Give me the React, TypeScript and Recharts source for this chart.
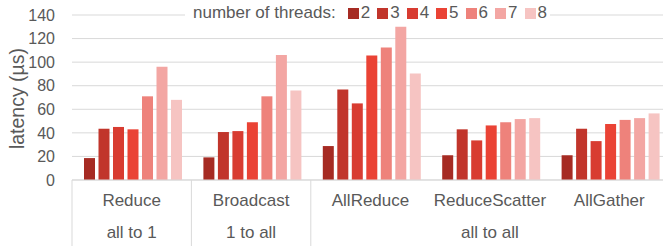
import { Bar, BarChart, CartesianGrid, Legend, XAxis, YAxis } from 'recharts'

const categories = ['Reduce', 'Broadcast', 'AllReduce', 'ReduceScatter', 'AllGather']
const groupLabels = ['all to 1', '1 to all', 'all to all']
const groupSizes = [1, 1, 3]
const threads = ['2', '3', '4', '5', '6', '7', '8']

const t2 = [18.6, 19.2, 28.8, 21, 21]
const t3 = [43.5, 40.7, 76.8, 43, 43.5]
const t4 = [45, 41.5, 65, 33.6, 33]
const t5 = [43, 49, 105.6, 46.3, 47.5]
const t6 = [71, 71, 112.4, 49, 51]
const t7 = [96, 106, 130, 51.7, 52.5]
const t8 = [68, 76, 90.4, 52.5, 56.5]
const series = [t2, t3, t4, t5, t6, t7, t8]

const yTicks = [0, 20, 40, 60, 80, 100, 120, 140]

const COLORS = ['#a62b23', '#c1352b', '#d83c31', '#ea4335', '#ee827b', '#f3a6a3', '#f6c4c2']
const FONT = '"Liberation Sans", Arial, sans-serif'
const TEXT = '#595959'
const GRID = '#d9d9d9'

const rows = categories.map((name, i) => {
  const row: Record<string, number | string> = { name }
  threads.forEach((t, k) => {
    row[t] = series[k][i]
  })
  return row
})

// erste Kategorie jeder Gruppe -> Index der Gruppe
const groupStart = new Map<number, number>()
{
  let idx = 0
  groupSizes.forEach((n, g) => {
    groupStart.set(idx, g)
    idx += n
  })
}

function CatTick(props: any) {
  const { x, y, payload } = props
  const half = payload.offset ?? 59.7
  const g = groupStart.get(payload.index)
  return (
    <g>
      {g !== undefined && (
        <>
          <line x1={x - half} x2={x - half} y1={y} y2={y + 66} stroke={GRID} strokeWidth={1} />
          <text
            x={x + (groupSizes[g] - 1) * half}
            y={y + 58}
            textAnchor="middle"
            fontSize={17}
            fill={TEXT}
            fontFamily={FONT}
          >
            {groupLabels[g]}
          </text>
        </>
      )}
      <text x={x} y={y + 26} textAnchor="middle" fontSize={17} fill={TEXT} fontFamily={FONT}>
        {payload.value}
      </text>
    </g>
  )
}

function ThreadLegend({ payload }: any) {
  return (
    <div
      style={{
        display: 'flex',
        alignItems: 'center',
        background: '#fff',
        padding: '0 3px 0 8px',
        height: 22,
        fontFamily: FONT,
        fontSize: 17,
        color: TEXT,
        whiteSpace: 'nowrap',
      }}
    >
      <span style={{ marginRight: 12 }}>number of threads:</span>
      {(payload ?? []).map((p: any, i: number) => (
        <span key={p.value} style={{ display: 'flex', alignItems: 'center', marginRight: i < 6 ? 7 : 0 }}>
          <span style={{ width: 11, height: 11, background: p.color, marginRight: 2, display: 'inline-block' }} />
          {p.value}
        </span>
      ))}
    </div>
  )
}

export default function App() {
  return (
    <div style={{ position: 'absolute', left: 0, top: 0, width: 663, height: 246, overflow: 'hidden', background: '#fff' }}>
      <BarChart
        width={670}
        height={246}
        data={rows}
        margin={{ top: 15, right: 1, left: 0, bottom: 0 }}
        barCategoryGap={12}
        barGap={3.5}
      >
        <CartesianGrid vertical={false} stroke={GRID} />
        <XAxis
          dataKey="name"
          height={66}
          tickLine={false}
          tickSize={0}
          tickMargin={0}
          stroke={GRID}
          interval={0}
          tick={<CatTick />}
        />
        <YAxis
          width={72}
          domain={[0, 140]}
          ticks={yTicks}
          axisLine={false}
          tickLine={false}
          tickSize={6}
          tickMargin={11}
          tick={{ fontSize: 16, fill: TEXT, fontFamily: FONT }}
          label={{
            content: ({ viewBox }: any) => (
              <text
                transform={`translate(${viewBox.x + 17},${viewBox.y + viewBox.height / 2 + 1}) rotate(-90)`}
                textAnchor="middle"
                dominantBaseline="central"
                fontSize={19.5}
                fill={TEXT}
                fontFamily={FONT}
              >
                latency (µs)
              </text>
            ),
          }}
        />
        <Legend
          layout="horizontal"
          verticalAlign="middle"
          align="center"
          wrapperStyle={{ top: 2, left: 185, width: 'auto' }}
          content={<ThreadLegend />}
        />
        {threads.map((t, i) => (
          <Bar key={t} dataKey={t} fill={COLORS[i]} isAnimationActive={false} />
        ))}
      </BarChart>
    </div>
  )
}
